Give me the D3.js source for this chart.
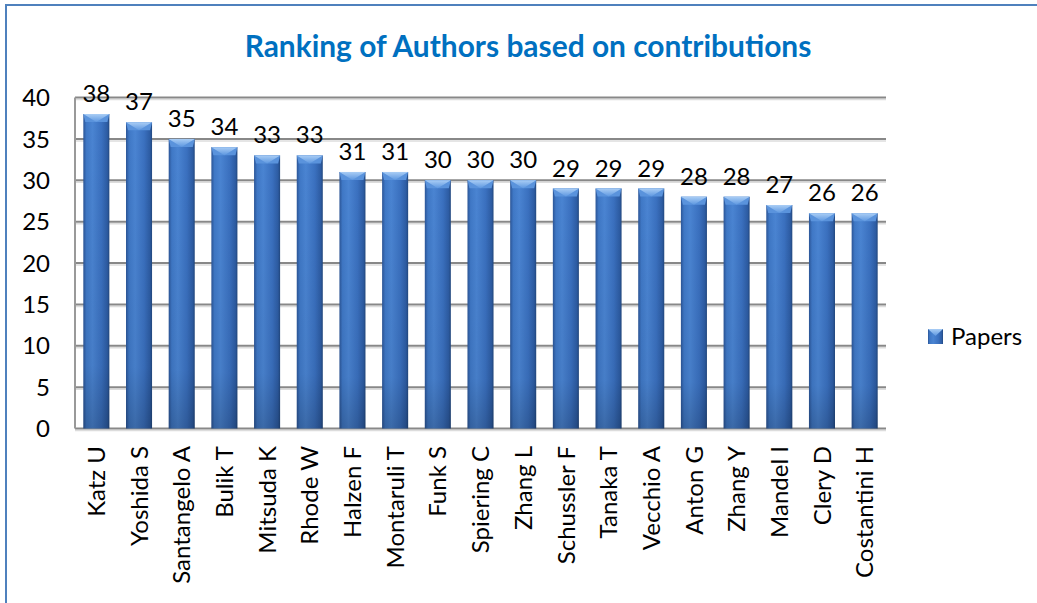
<!DOCTYPE html>
<html>
<head>
<meta charset="utf-8">
<script src="https://cdn.jsdelivr.net/npm/d3@7"></script>
<style>
  body { margin: 0; background: #fff; }
  svg { display: block; font-family: Lato, "Open Sans", sans-serif; }
</style>
</head>
<body>
<div id="chart"></div>
<script>
// Data
const authors = ["Katz U", "Yoshida S", "Santangelo A", "Bulik T", "Mitsuda K", "Rhode W",
  "Halzen F", "Montaruli T", "Funk S", "Spiering C", "Zhang L", "Schussler F",
  "Tanaka T", "Vecchio A", "Anton G", "Zhang Y", "Mandel I", "Clery D", "Costantini H"];
const papers = [38, 37, 35, 34, 33, 33, 31, 31, 30, 30, 30, 29, 29, 29, 28, 28, 27, 26, 26];
const yTicks = [0, 5, 10, 15, 20, 25, 30, 35, 40];
const seriesName = "Papers";
const title = "Ranking of Authors based on contributions";

const data = authors.map((a, i) => ({ author: a, value: papers[i] }));

const width = 1037, height = 603;
const plot = { left: 75, right: 886, top: 97.5, bottom: 428.5 };
const fontSize = 24;

const svg = d3.select("#chart")
  .append("svg")
    .attr("width", width)
    .attr("height", height);

// Gradients
const defs = svg.append("defs");
const barGrad = defs.append("linearGradient")
    .attr("id", "barGrad")
    .attr("x1", "0").attr("x2", "1").attr("y1", "0").attr("y2", "0");
[["0%", "#2b5597"], ["12%", "#3f78c6"], ["35%", "#4a84d2"], ["70%", "#3a70bf"], ["92%", "#2d5ca3"], ["100%", "#22487f"]]
  .forEach(([o, c]) => barGrad.append("stop").attr("offset", o).attr("stop-color", c));
const shadeGrad = defs.append("linearGradient")
    .attr("id", "shadeGrad")
    .attr("x1", "0").attr("x2", "0").attr("y1", "0").attr("y2", "1");
[["0%", "#000", 0], ["80%", "#000", 0.05], ["100%", "#000", 0.2]]
  .forEach(([o, c, a]) => shadeGrad.append("stop").attr("offset", o).attr("stop-color", c).attr("stop-opacity", a));
const capGrad = defs.append("linearGradient")
    .attr("id", "capGrad")
    .attr("x1", "0").attr("x2", "0").attr("y1", "0").attr("y2", "1");
[["0%", "#a9cdf5"], ["100%", "#5d97e0"]]
  .forEach(([o, c]) => capGrad.append("stop").attr("offset", o).attr("stop-color", c));

// Outer frame (only top and left edges fall inside the picture)
svg.append("path")
    .attr("d", `M6,${height} V5 H${width}`)
    .attr("fill", "none")
    .attr("stroke", "#4f81bd")
    .attr("stroke-width", 2);

// Scales
const x = d3.scaleBand()
    .domain(authors)
    .range([plot.left, plot.right])
    .paddingInner(0.39)
    .paddingOuter(0.195);
const y = d3.scaleLinear()
    .domain([0, 40])
    .range([plot.bottom, plot.top]);

// Gridlines
const grid = svg.append("g");
grid.selectAll("line.shadow")
  .data(yTicks)
  .join("line")
    .attr("class", "shadow")
    .attr("x1", plot.left).attr("x2", plot.right)
    .attr("y1", d => y(d) + 2).attr("y2", d => y(d) + 2)
    .attr("stroke", "#dcdcdc")
    .attr("stroke-width", 1.5);
grid.selectAll("line.main")
  .data(yTicks)
  .join("line")
    .attr("class", "main")
    .attr("x1", plot.left).attr("x2", plot.right)
    .attr("y1", d => y(d)).attr("y2", d => y(d))
    .attr("stroke", "#888")
    .attr("stroke-width", 2);

// Left axis line
svg.append("line")
    .attr("x1", plot.left).attr("x2", plot.left)
    .attr("y1", plot.top).attr("y2", plot.bottom)
    .attr("stroke", "#999")
    .attr("stroke-width", 2);

// Y axis labels
svg.append("g")
  .selectAll("text")
  .data(yTicks)
  .join("text")
    .attr("x", 50)
    .attr("y", d => y(d))
    .attr("dy", "0.36em")
    .attr("text-anchor", "end")
    .style("font-size", fontSize + "px")
    .attr("fill", "#000")
    .text(d => d);

// Bars
const bw = x.bandwidth();
const capH = 8;
const bars = svg.append("g")
  .selectAll("g")
  .data(data)
  .join("g")
    .attr("transform", d => `translate(${x(d.author)},0)`);

bars.append("rect")
    .attr("x", 0)
    .attr("y", d => y(d.value))
    .attr("width", bw)
    .attr("height", d => plot.bottom - y(d.value))
    .attr("fill", "url(#barGrad)");
bars.append("rect")
    .attr("x", 0)
    .attr("y", d => y(d.value))
    .attr("width", bw)
    .attr("height", d => plot.bottom - y(d.value))
    .attr("fill", "url(#shadeGrad)");
// bevelled cap
bars.append("path")
    .attr("d", d => {
      const t = y(d.value);
      return `M0,${t} H${bw} L${bw - 2},${t + capH} H2 Z`;
    })
    .attr("fill", "#5a93dc");
bars.append("path")
    .attr("d", d => {
      const t = y(d.value);
      return `M0,${t} H${bw} L${bw / 2},${t + capH} Z`;
    })
    .attr("fill", "url(#capGrad)");

// Value labels
bars.append("text")
    .attr("x", bw / 2)
    .attr("y", d => y(d.value) - 12)
    .attr("text-anchor", "middle")
    .style("font-size", fontSize + "px")
    .attr("fill", "#000")
    .text(d => d.value);

// Category labels
svg.append("g")
  .selectAll("text")
  .data(authors)
  .join("text")
    .attr("transform", d => `translate(${x(d) + bw / 2},446) rotate(-90)`)
    .attr("dy", "0.36em")
    .attr("text-anchor", "end")
    .style("font-size", fontSize + "px")
    .attr("fill", "#000")
    .text(d => d);

// Title
const titleText = svg.append("text")
    .attr("x", 528)
    .attr("y", 57)
    .attr("text-anchor", "middle")
    .style("font-size", "25px")
    .style("font-weight", "bold")
    .attr("fill", "#0070c0")
    .text(title);
const tw = titleText.node().getComputedTextLength();
titleText.style("font-size", (25 * 567 / tw) + "px");

// Legend
const legend = svg.append("g").attr("transform", "translate(928,329)");
legend.append("rect")
    .attr("width", 15).attr("height", 15)
    .attr("fill", "url(#barGrad)");
legend.append("path")
    .attr("d", "M0,0 H15 L7.5,7 Z")
    .attr("fill", "url(#capGrad)");
legend.append("text")
    .attr("x", 23)
    .attr("y", 7.5)
    .attr("dy", "0.36em")
    .style("font-size", fontSize + "px")
    .attr("fill", "#000")
    .text(seriesName);
</script>
</body>
</html>
